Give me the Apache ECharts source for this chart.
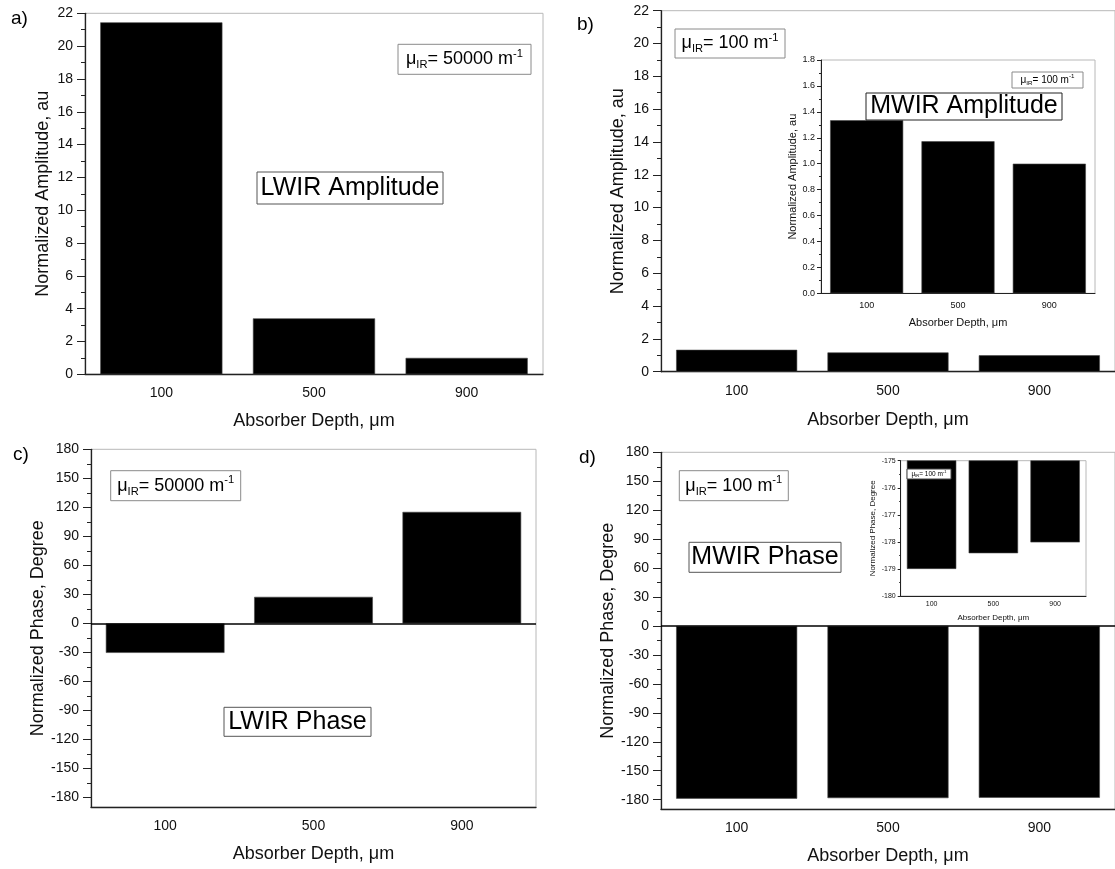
<!DOCTYPE html>
<html><head><meta charset="utf-8">
<script src="https://cdn.jsdelivr.net/npm/echarts@6/dist/echarts.min.js"></script>
<style>html,body{margin:0;padding:0;background:#fff}#c{width:1115px;height:869px}</style>
</head><body><div id="c"></div>
<script>
// ---- data ----
const categories = ['100', '500', '900'];
const lwirAmplitude = [21.45, 3.41, 1.0];
const mwirAmplitude = [1.335, 1.173, 1.0];
const lwirPhase = [-30.4, 27.5, 115.3];
const mwirPhase = [-179.0, -178.42, -178.02];
const phaseTicks = [-180, -150, -120, -90, -60, -30, 0, 30, 60, 90, 120, 150, 180];
const phaseMinorTicks = [-165, -135, -105, -75, -45, -15, 15, 45, 75, 105, 135, 165];
const xTitle = 'Absorber Depth, \u03bcm';
const ampTitle = 'Normalized Amplitude, au';
const phaseTitle = 'Normalized Phase, Degree';

const FONT = '"Liberation Sans", Arial, sans-serif';
const AX = '#222';

const chart = echarts.init(document.getElementById('c'), null, {renderer: 'canvas'});

function grid(left, top, width, height) {
  return {left, top, width, height, show: true, borderColor: '#b8b8b8', borderWidth: 1, backgroundColor: 'transparent', containLabel: false};
}
function xAx(g, o) {
  return {
    type: 'category', gridIndex: g, data: categories, position: 'bottom',
    axisLine: {onZero: false, lineStyle: {color: AX, width: o.lw || 1.3}},
    axisTick: {alignWithLabel: true, length: o.tick, lineStyle: {color: AX}},
    axisLabel: {fontSize: o.fs, margin: o.margin, color: '#111', fontFamily: FONT},
    name: xTitle, nameLocation: 'middle', nameGap: o.gap,
    nameTextStyle: {fontSize: o.nfs, color: '#111', fontFamily: FONT},
    splitLine: {show: false}
  };
}
function yAx(g, o) {
  const a = {
    type: 'value', gridIndex: g, position: 'left', min: o.min, max: o.max,
    axisLine: {show: true, onZero: false, lineStyle: {color: AX, width: o.lw || 1.3}},
    axisTick: {show: true, length: o.tick, lineStyle: {color: AX}},
    minorTick: {show: !!o.minor, splitNumber: 2, length: o.minor || 0, lineStyle: {color: AX}},
    axisLabel: {fontSize: o.fs, margin: o.margin, color: '#111', fontFamily: FONT},
    name: o.name, nameLocation: 'middle', nameGap: o.gap,
    nameTextStyle: {fontSize: o.nfs, color: '#111', fontFamily: FONT},
    splitLine: {show: false}, minorSplitLine: {show: false}
  };
  if (o.interval != null) a.interval = o.interval;
  if (o.custom) { a.axisLabel.customValues = o.custom; a.axisTick.customValues = o.custom; }
  if (o.fmt) a.axisLabel.formatter = o.fmt;
  return a;
}
function minorAx(g, o) {
  return {
    type: 'value', gridIndex: g, position: 'left', min: o.min, max: o.max,
    axisLine: {show: false},
    axisTick: {show: true, length: 4, customValues: phaseMinorTicks, lineStyle: {color: AX}},
    axisLabel: {show: false, customValues: phaseMinorTicks},
    splitLine: {show: false}
  };
}
function bar(xi, yi, data, zero) {
  const s = {
    type: 'bar', xAxisIndex: xi, yAxisIndex: yi, data: data, barWidth: '80%',
    itemStyle: {color: '#000', borderColor: '#444', borderWidth: 0.6},
    clip: true, silent: true, animation: false
  };
  if (zero) {
    s.markLine = {silent: true, symbol: ['none', 'none'], label: {show: false},
      lineStyle: {color: '#000', width: 1.6, type: 'solid'}, data: [{yAxis: 0}]};
  }
  return s;
}
function box(x, y, w, h, text, rich, stroke, z) {
  return {
    type: 'group', x: x, y: y, z: z || 100,
    children: [
      {type: 'rect', shape: {x: 0, y: 0, width: w, height: h}, style: {fill: '#fff', stroke: stroke, lineWidth: 1}, z: z || 100},
      {type: 'text', x: w / 2, y: h / 2, z: (z || 100) + 1,
        style: {text: text, rich: rich, align: 'center', verticalAlign: 'middle', fill: '#000', font: '10px ' + FONT}}
    ]
  };
}
function muRich(fs) {
  return {
    m: {fontSize: fs, fontFamily: FONT, color: '#000', lineHeight: fs * 1.25},
    s: {fontSize: fs * 0.62, fontFamily: FONT, color: '#000', verticalAlign: 'bottom', lineHeight: fs * 1.25},
    p: {fontSize: fs * 0.62, fontFamily: FONT, color: '#000', verticalAlign: 'top', lineHeight: fs * 1.25}
  };
}
function muText(val) { return '{m|\u03bc}{s|IR}{m|= ' + val + ' m}{p|-1}'; }
function bigRich(fs) { return {b: {fontSize: fs, fontFamily: FONT, color: '#000', lineHeight: fs}}; }
function label(x, y, t) {
  return {type: 'text', x: x, y: y, z: 100, style: {text: t, fill: '#000', font: '19px ' + FONT}};
}

const option = {
  animation: false,
  backgroundColor: '#fff',
  grid: [
    grid(85, 13.3, 458, 361),
    grid(661, 10.7, 457, 361),
    grid(91, 449.3, 445, 358),
    grid(661, 452.3, 457, 357),
    grid(821, 60, 274, 233.3),
    grid(900.7, 460.7, 185.3, 135.3)
  ],
  xAxis: [
    xAx(0, {tick: 6, fs: 14, margin: 12, gap: 38, nfs: 18}),
    xAx(1, {tick: 6, fs: 14, margin: 12, gap: 39, nfs: 18}),
    xAx(2, {tick: 6, fs: 14, margin: 12, gap: 38, nfs: 18}),
    xAx(3, {tick: 6, fs: 14, margin: 12, gap: 38, nfs: 18}),
    xAx(4, {tick: 3, fs: 9, margin: 8, gap: 24, nfs: 11, lw: 1}),
    xAx(5, {tick: 3, fs: 7, margin: 5, gap: 18, nfs: 8, lw: 1})
  ],
  yAxis: [
    yAx(0, {min: 0, max: 22, interval: 2, tick: 8, minor: 4, fs: 14, margin: 12, name: ampTitle, gap: 33, nfs: 18}),
    yAx(1, {min: 0, max: 22, interval: 2, tick: 8, minor: 4, fs: 14, margin: 12, name: ampTitle, gap: 34, nfs: 18}),
    yAx(2, {min: -190, max: 180, custom: phaseTicks, tick: 8, fs: 14, margin: 12, name: phaseTitle, gap: 36, nfs: 18}),
    yAx(3, {min: -190, max: 180, custom: phaseTicks, tick: 8, fs: 14, margin: 12, name: phaseTitle, gap: 37, nfs: 18}),
    yAx(4, {min: 0, max: 1.8, interval: 0.2, tick: 4, minor: 2, fs: 9, margin: 6, name: ampTitle, gap: 19.5, nfs: 11, lw: 1, fmt: v => v.toFixed(1)}),
    yAx(5, {min: -180, max: -175, interval: 1, tick: 3, minor: 1.5, fs: 7, margin: 5, name: phaseTitle, gap: 24, nfs: 8, lw: 1}),
    minorAx(2, {min: -190, max: 180}),
    minorAx(3, {min: -190, max: 180})
  ],
  series: [
    bar(0, 0, lwirAmplitude, false),
    bar(1, 1, mwirAmplitude, false),
    bar(2, 2, lwirPhase, true),
    bar(3, 3, mwirPhase, true),
    bar(4, 4, mwirAmplitude, false),
    bar(5, 5, mwirPhase, false)
  ],
  graphic: [
    label(11, 9, 'a)'), label(577, 15, 'b)'), label(13, 445, 'c)'), label(579, 448, 'd)'),
    box(398, 44.3, 133, 30, muText('50000'), muRich(18), '#8a8a8a'),
    box(675, 29, 110, 29, muText('100'), muRich(18), '#8a8a8a'),
    box(110.7, 470.7, 130, 30, muText('50000'), muRich(18), '#8a8a8a'),
    box(679.3, 470.7, 109, 30, muText('100'), muRich(18), '#8a8a8a'),
    box(1012, 72, 71, 16, muText('100'), muRich(10), '#8a8a8a'),
    box(907, 469, 44, 10, muText('100'), muRich(6.5), '#444', 110),
    box(257, 172, 186, 32, '{b|LWIR Amplitude}', bigRich(25), '#555'),
    box(866, 93, 196, 27, '{b|MWIR Amplitude}', bigRich(25), '#222', 110),
    box(224, 707.3, 147, 29, '{b|LWIR Phase}', bigRich(25), '#555'),
    box(689, 542.3, 152, 30, '{b|MWIR Phase}', bigRich(25), '#555')
  ]
};
chart.setOption(option);
</script>
</body></html>
